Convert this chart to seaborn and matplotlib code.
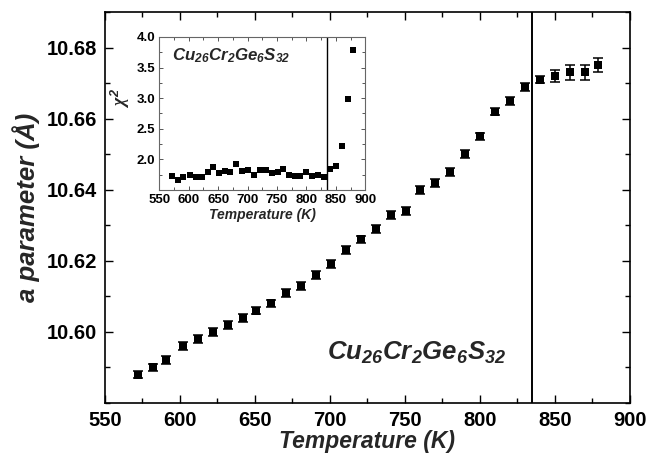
import matplotlib
matplotlib.use("Agg")
import matplotlib.pyplot as plt
import seaborn as sns
import pandas as pd
from matplotlib.ticker import MultipleLocator, FormatStrFormatter

# Lattice parameter vs temperature for Cu26Cr2Ge6S32
temperature = [572, 582, 591, 602, 612, 622, 632, 642, 651, 661, 671, 681,
               691, 701, 711, 721, 731, 741, 751, 760, 770, 780, 790, 800,
               810, 820, 830, 840, 850, 860, 870, 879]
a_param = [10.588, 10.590, 10.592, 10.596, 10.598, 10.600, 10.602, 10.604,
           10.606, 10.608, 10.611, 10.613, 10.616, 10.619, 10.623, 10.626,
           10.629, 10.633, 10.634, 10.640, 10.642, 10.645, 10.650, 10.655,
           10.662, 10.665, 10.669, 10.671, 10.672, 10.673, 10.673, 10.675]
a_err = [0.0011, 0.0011, 0.0011, 0.0011, 0.0011, 0.0011, 0.0011, 0.0011,
         0.0011, 0.0011, 0.0011, 0.0011, 0.0011, 0.0011, 0.0011, 0.0011,
         0.0011, 0.0011, 0.0011, 0.0011, 0.0011, 0.0011, 0.0011, 0.0011,
         0.0011, 0.0011, 0.0011, 0.0011, 0.0018, 0.0020, 0.0020, 0.0020]
# Goodness of fit of the refinements
chi2 = [1.73, 1.66, 1.72, 1.75, 1.72, 1.72, 1.79, 1.88, 1.78, 1.81, 1.79,
        1.93, 1.81, 1.83, 1.74, 1.82, 1.82, 1.77, 1.79, 1.85, 1.74, 1.73,
        1.73, 1.79, 1.73, 1.74, 1.71, 1.85, 1.89, 2.22, 2.99, 3.78]
a_ticks = [10.60, 10.62, 10.64, 10.66, 10.68]
chi_ticks = [2.0, 2.5, 3.0, 3.5, 4.0]
transition_T = 835
formula = r"$\mathrm{Cu_{26}Cr_{2}Ge_{6}S_{32}}$"

df = pd.DataFrame({"T": temperature, "a": a_param, "err": a_err, "chi2": chi2})

sns.set_theme(style="ticks")
plt.rcParams.update({
    "font.family": ["Liberation Sans", "DejaVu Sans"],
    "font.weight": "bold",
    "mathtext.fontset": "custom",
    "mathtext.rm": "Liberation Sans:italic:bold",
    "mathtext.it": "Liberation Serif:italic",
    "mathtext.bf": "Liberation Sans:bold",
    "axes.edgecolor": "black",
    "xtick.color": "black",
    "ytick.color": "black",
})

fig = plt.figure(figsize=(6.5, 4.55), dpi=100)

# ---- main panel ----
ax = fig.add_axes([0.1615, 0.1143, 0.8075, 0.8593])
ax.errorbar(df["T"], df["a"], yerr=df["err"], fmt="none", ecolor="black",
            elinewidth=1.1, capsize=3.6, capthick=1.1, zorder=2)
sns.scatterplot(data=df, x="T", y="a", marker="s", s=28, color="black",
                edgecolor="black", linewidth=0, ax=ax, zorder=3)
ax.axvline(transition_T, color="black", lw=1.4, zorder=1)
ax.set_xlim(550, 900)
ax.set_ylim(10.58, 10.69)
ax.xaxis.set_major_locator(MultipleLocator(50))
ax.xaxis.set_minor_locator(MultipleLocator(25))
ax.set_yticks(a_ticks)
ax.yaxis.set_minor_locator(MultipleLocator(0.01))
ax.yaxis.set_major_formatter(FormatStrFormatter("%.2f"))
ax.tick_params(which="both", direction="in", top=True, right=True, width=1.0)
ax.tick_params(which="major", length=6, labelsize=14.5, pad=6)
ax.tick_params(which="minor", length=3.5)
for sp in ax.spines.values():
    sp.set_linewidth(1.2)
ax.set_xlabel("Temperature (K)", fontsize=16.5, fontweight="bold",
              fontstyle="italic", labelpad=0)
ax.set_ylabel("a parameter (Å)", fontsize=18.5, fontweight="bold",
              fontstyle="italic")
ax.yaxis.set_label_coords(-0.124, 0.5)
ax.text(0.594, 0.128, formula, transform=ax.transAxes, ha="center",
        va="center", fontsize=18.5)

# ---- inset: chi^2 ----
ins = fig.add_axes([0.245, 0.5824, 0.3169, 0.3363])
sns.scatterplot(data=df, x="T", y="chi2", marker="s", s=16, color="black",
                edgecolor="black", linewidth=0, ax=ins, zorder=3)
ins.axvline(transition_T, color="black", lw=1.0, zorder=1)
ins.set_xlim(550, 900)
ins.set_ylim(1.5, 4.0)
ins.xaxis.set_major_locator(MultipleLocator(50))
ins.xaxis.set_minor_locator(MultipleLocator(25))
ins.set_yticks(chi_ticks)
ins.yaxis.set_minor_locator(MultipleLocator(0.25))
ins.yaxis.set_major_formatter(FormatStrFormatter("%.1f"))
ins.tick_params(which="both", direction="in", top=True, right=True,
                width=0.7, color="#555555")
ins.tick_params(which="major", length=3, labelsize=9.5, pad=3)
ins.tick_params(which="minor", length=2)
for sp in ins.spines.values():
    sp.set_linewidth(0.8)
    sp.set_color("#666666")
ins.set_xlabel("Temperature (K)", fontsize=10, fontweight="bold",
               fontstyle="italic", labelpad=1)
ins.set_ylabel(r"$\chi^2$", fontsize=13, fontweight="normal")
ins.yaxis.set_label_coords(-0.13, 0.6)
ins.text(0.35, 0.88, formula, transform=ins.transAxes, ha="center",
         va="center", fontsize=12.2)

fig.savefig("out.png", dpi=100)
